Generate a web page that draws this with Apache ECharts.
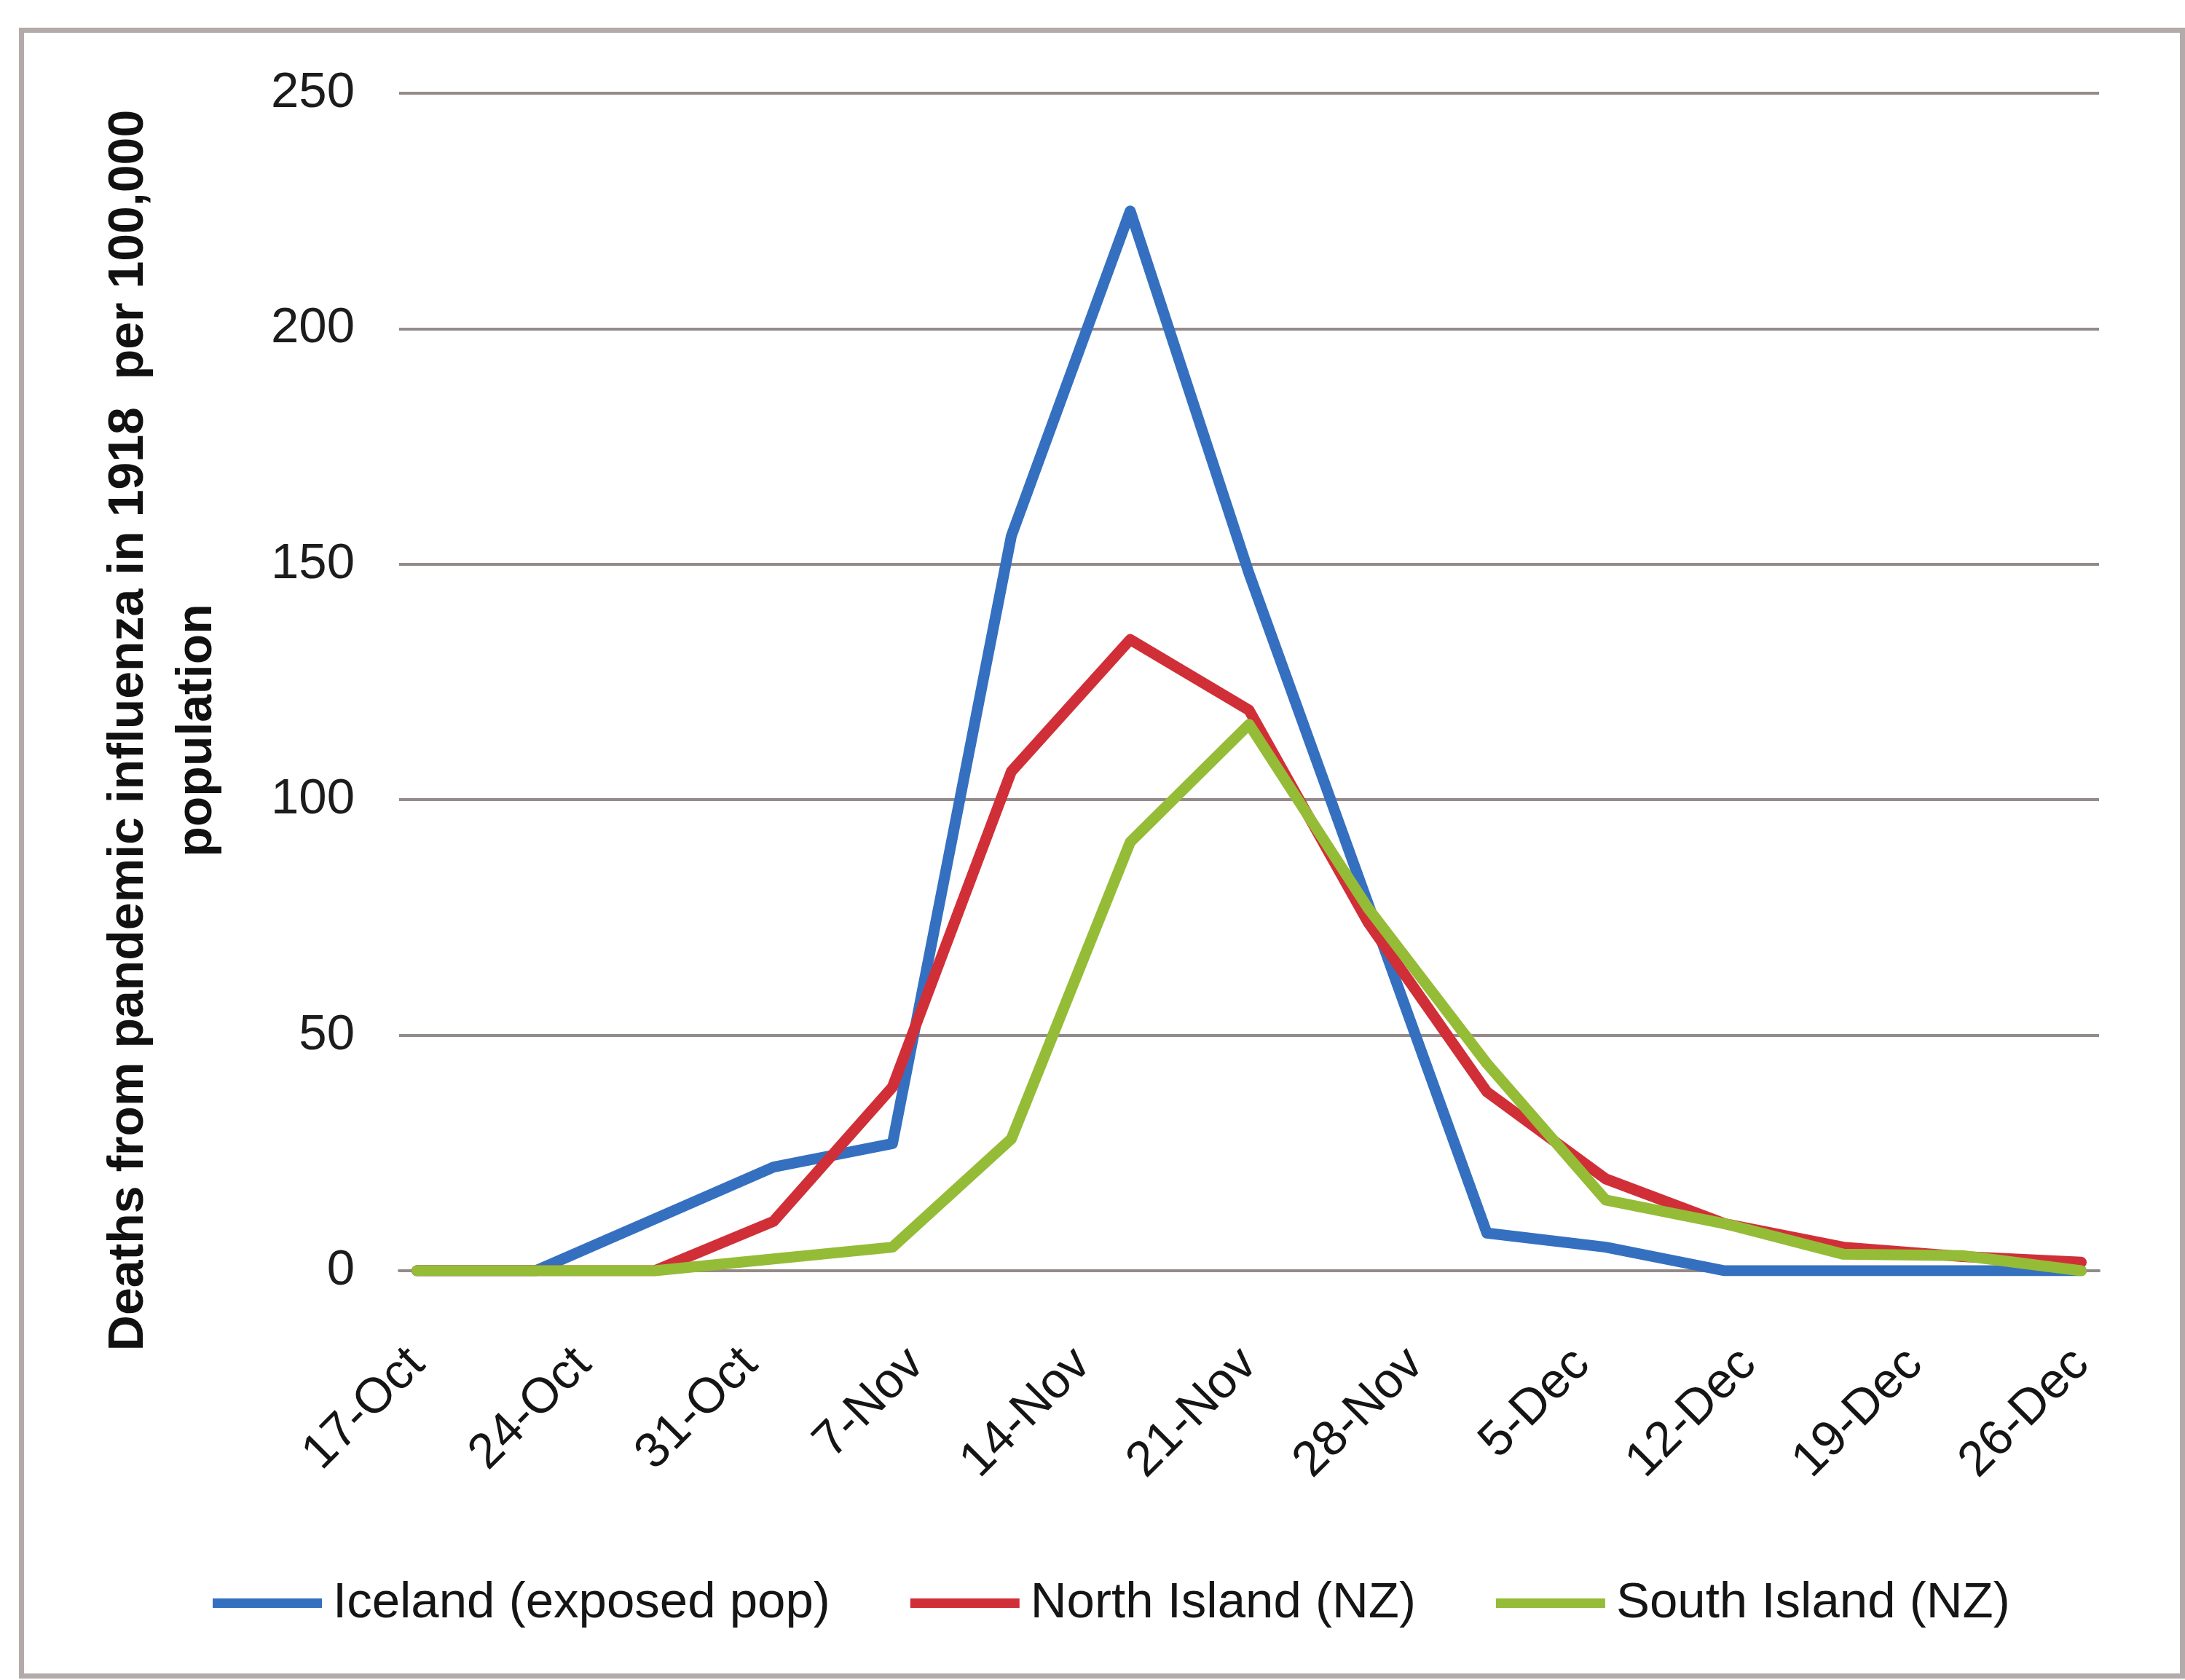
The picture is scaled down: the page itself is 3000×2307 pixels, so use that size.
<!DOCTYPE html>
<html>
<head>
<meta charset="utf-8">
<script src="https://cdn.jsdelivr.net/npm/echarts@6/dist/echarts.min.js"></script>
<style>
html,body{margin:0;padding:0;background:#ffffff;}
#chart{width:3000px;height:2307px;}
</style>
</head>
<body>
<div id="chart"></div>
<script>
// ---- data ----
const dates = ['1918-10-17','1918-10-22','1918-10-27','1918-11-01','1918-11-06','1918-11-11','1918-11-16','1918-11-21',
               '1918-11-26','1918-12-01','1918-12-06','1918-12-11','1918-12-16','1918-12-21','1918-12-26'];
const iceland     = [0, 0, 11, 22, 27, 156, 225, 148, 78, 8, 5, 0, 0, 0, 0];
const northIsland = [0, 0, 0, 10.5, 39, 106, 134, 119, 74, 38, 19.5, 10, 5, 3, 1.8];
const southIsland = [0, 0, 0, 2.5, 5, 28, 91, 116, 77, 44, 15, 10, 3.5, 3.2, 0];
const seriesNames = ['Iceland (exposed pop)', 'North Island (NZ)', 'South Island (NZ)'];
const tickDates  = ['1918-10-17','1918-10-24','1918-10-31','1918-11-07','1918-11-14','1918-11-21',
                    '1918-11-28','1918-12-05','1918-12-12','1918-12-19','1918-12-26'];
const tickLabels = ['17-Oct','24-Oct','31-Oct','7-Nov','14-Nov','21-Nov','28-Nov','5-Dec','12-Dec','19-Dec','26-Dec'];
const yTicks = [0, 50, 100, 150, 200, 250];
const yTitle = 'Deaths from pandemic influenza in 1918  per 100,000\npopulation';

// ---- derived ----
const DAY = 86400000;
const t0 = Date.parse(dates[0]);
const dayOf = s => Math.round((Date.parse(s) - t0) / DAY);
const xs = dates.map(dayOf);
const tickDays = tickDates.map(dayOf);
const pairs = arr => xs.map((x, i) => [x, arr[i]]);

const colors = ['#3570C0', '#D12F38', '#95BC36'];
const FONT = '"Liberation Sans", Arial, sans-serif';
const GRID_COL = '#958a8a';

const chart = echarts.init(document.getElementById('chart'), null, {renderer: 'canvas'});
chart.setOption({
  backgroundColor: '#ffffff',
  animation: false,
  color: colors,
  grid: {left: 548, right: 118, top: 128, bottom: 562, containLabel: false},
  legend: {
    data: seriesNames,
    left: 287, top: 2162,
    icon: 'rect', itemWidth: 150, itemHeight: 13, itemGap: 110,
    textStyle: {fontFamily: FONT, fontSize: 69, color: '#151515', padding: [0, 0, 0, 10]}
  },
  xAxis: {
    type: 'value',
    min: -0.75, max: 70.75,
    axisLine: {show: true, onZero: true, lineStyle: {color: GRID_COL, width: 4}},
    axisTick: {show: false},
    splitLine: {show: false},
    axisLabel: {
      customValues: tickDays,
      rotate: 45, margin: 118,
      fontFamily: FONT, fontSize: 68, color: '#151515',
      formatter: v => {
        const i = tickDays.indexOf(Math.round(v));
        return i >= 0 ? tickLabels[i] : '';
      }
    }
  },
  yAxis: {
    type: 'value',
    min: yTicks[0], max: yTicks[yTicks.length - 1], interval: yTicks[1] - yTicks[0],
    axisLine: {show: false},
    axisTick: {show: false},
    splitLine: {show: true, lineStyle: {color: GRID_COL, width: 4}},
    axisLabel: {margin: 61, fontFamily: FONT, fontSize: 69, color: '#1c1c1c'}
  },
  series: [iceland, northIsland, southIsland].map((arr, i) => ({
    name: seriesNames[i],
    type: 'line',
    data: pairs(arr),
    symbol: 'none',
    showSymbol: false,
    lineStyle: {width: 15, color: colors[i], cap: 'round', join: 'round'},
    itemStyle: {color: colors[i]},
    z: 3 + i
  })),
  graphic: [
    {
      type: 'rect', silent: true, z: 100,
      shape: {x: 29.5, y: 41.5, width: 2967, height: 2260},
      style: {fill: 'none', stroke: '#b3aaaa', lineWidth: 7}
    },
    {
      type: 'text', silent: true, z: 100,
      x: 224, y: 1003, rotation: Math.PI / 2,
      style: {
        text: yTitle, fontFamily: FONT, fontWeight: 'bold', fontSize: 68,
        lineHeight: 94, align: 'center', verticalAlign: 'middle', fill: '#111111'
      }
    }
  ]
});
</script>
</body>
</html>
